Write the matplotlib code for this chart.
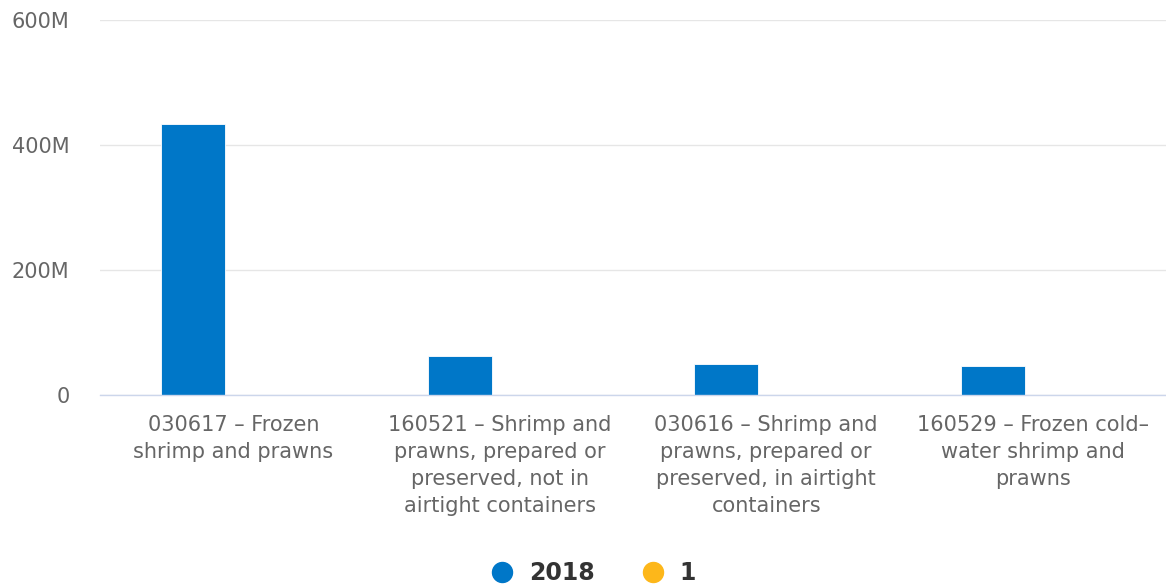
import matplotlib
matplotlib.use("Agg")
import matplotlib.pyplot as plt
from matplotlib.lines import Line2D
import numpy as np

plt.rcParams["font.family"] = ["DejaVu Sans"]

categories = [
    "030617 – Frozen\nshrimp and prawns",
    "160521 – Shrimp and\nprawns, prepared or\npreserved, not in\nairtight containers",
    "030616 – Shrimp and\nprawns, prepared or\npreserved, in airtight\ncontainers",
    "160529 – Frozen cold–\nwater shrimp and\nprawns",
]
series_names = ["2018", "1"]
values_2018 = [434.5e6, 62.8e6, 49.6e6, 46.4e6]
values_1 = [0, 0, 0, 0]
colors = ["#0077c8", "#fdb71a"]
yticks = [0, 200e6, 400e6, 600e6]
ytick_labels = ["0", "200M", "400M", "600M"]

fig = plt.figure(figsize=(11.66, 5.85), dpi=100)
ax = fig.add_axes([100/1166, 1 - 395.3/585, 1066/1166, (395.3 - 20)/585])

x = np.arange(len(categories))
w = 0.24
ax.bar(x - 0.15, values_2018, width=w, color=colors[0], edgecolor="white", linewidth=0.6, zorder=3)
ax.bar(x + 0.15, values_1, width=w, color=colors[1], edgecolor="white", linewidth=0.6, zorder=3)

ax.set_xlim(-0.5, len(categories) - 0.5)
ax.set_ylim(0, 600e6)
ax.set_yticks(yticks)
ax.set_yticklabels(ytick_labels)
ax.set_xticks(x)
ax.set_xticklabels(categories, linespacing=1.45)

for s in ["top", "right", "left"]:
    ax.spines[s].set_visible(False)
ax.spines["bottom"].set_color("#ccd6eb")
ax.spines["bottom"].set_linewidth(1)
ax.spines["bottom"].set_zorder(4)

ax.grid(axis="y", color="#e6e6e6", linewidth=1, zorder=0)
ax.set_axisbelow(True)
ax.tick_params(axis="y", length=0, pad=22, labelsize=15, labelcolor="#666666")
ax.tick_params(axis="x", length=0, pad=14, labelsize=15, labelcolor="#666666")
for lbl in ax.get_yticklabels():
    lbl.set_horizontalalignment("right")

handles = [Line2D([], [], marker="o", linestyle="none", markersize=14.4,
                  markerfacecolor=c, markeredgecolor=c) for c in colors]
leg = fig.legend(handles, series_names, loc="center", bbox_to_anchor=(593/1166, 1 - 573/585),
                 ncol=2, frameon=False, handlelength=1.0, handletextpad=0.64, columnspacing=1.95,
                 borderpad=0, prop={"weight": "bold", "size": 17})
for t in leg.get_texts():
    t.set_color("#333333")

fig.savefig("out.png", dpi=100, facecolor="white")
